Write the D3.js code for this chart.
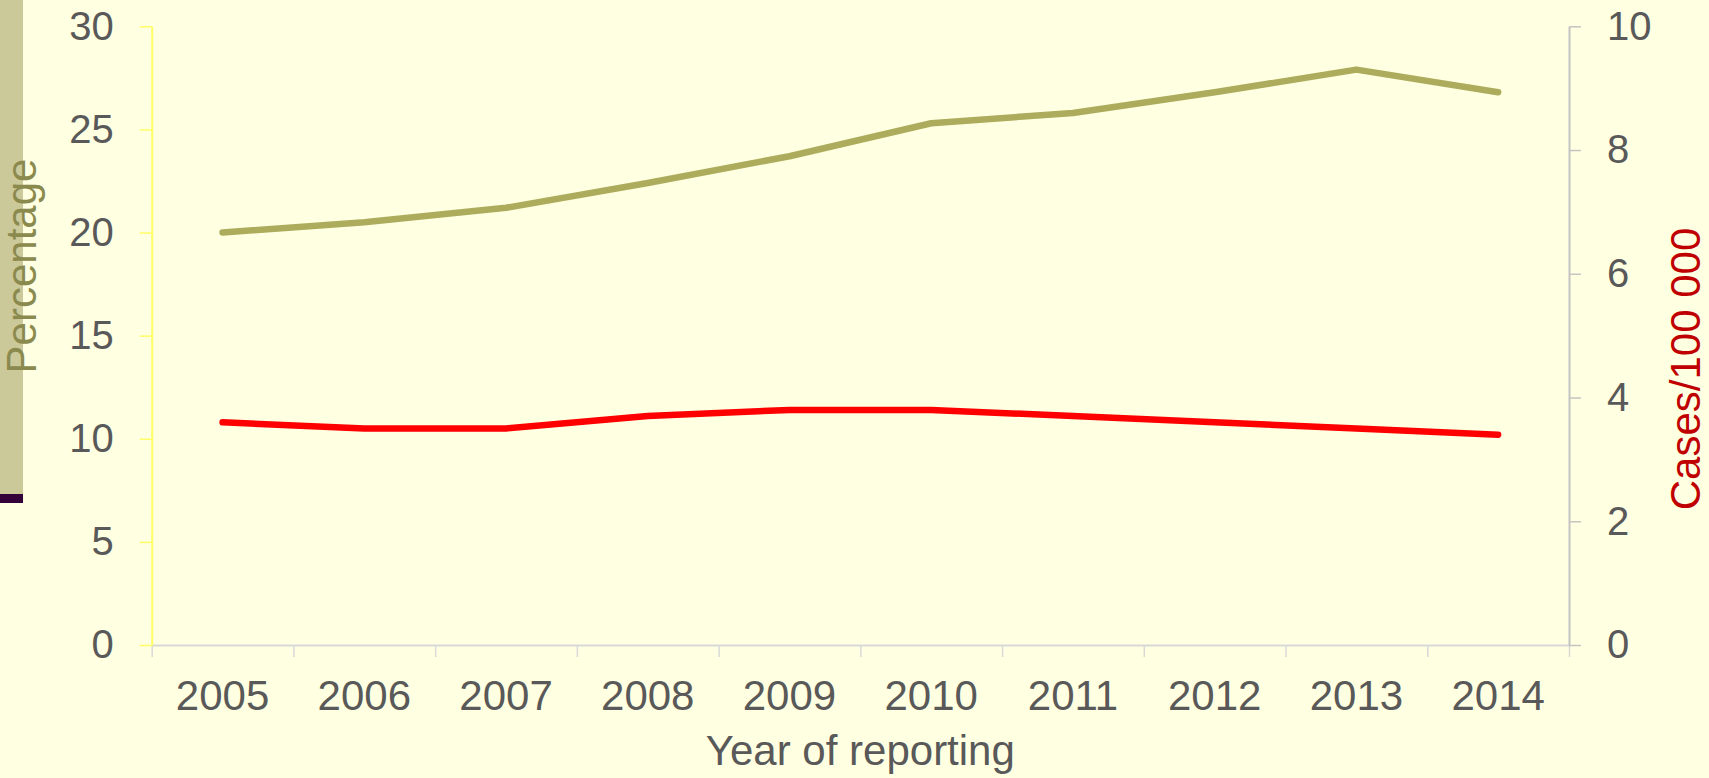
<!DOCTYPE html>
<html>
<head>
<meta charset="utf-8">
<script src="https://cdn.jsdelivr.net/npm/d3@7"></script>
<style>
    html, body { margin: 0; padding: 0; background: #FFFFE1; }
    svg { display: block; font-family: Arial, "Liberation Sans", sans-serif; }
</style>
</head>
<body>
<div id="chart"></div>
<script>
const years = ["2005", "2006", "2007", "2008", "2009", "2010", "2011", "2012", "2013", "2014"];
const percentage = [20.0, 20.5, 21.2, 22.4, 23.7, 25.3, 25.8, 26.8, 27.9, 26.8];
const casesPer100k = [3.6, 3.5, 3.5, 3.7, 3.8, 3.8, 3.7, 3.6, 3.5, 3.4];
const leftTicks = [0, 5, 10, 15, 20, 25, 30];
const rightTicks = [0, 2, 4, 6, 8, 10];

const width = 1709;
const height = 778;
const plotLeft = 151.7;
const plotRight = 1569;
const plotTop = 26.3;
const plotBottom = 645;

const svg = d3.select("#chart")
    .append("svg")
    .attr("width", width)
    .attr("height", height);

svg.append("rect")
    .attr("width", width)
    .attr("height", height)
    .attr("fill", "#FFFFE1");

// decoration strip on the left edge
svg.append("rect")
    .attr("x", 0).attr("y", 0)
    .attr("width", 23).attr("height", 494)
    .attr("fill", "#CBC89A");
svg.append("rect")
    .attr("x", 0).attr("y", 494)
    .attr("width", 23).attr("height", 9)
    .attr("fill", "#33003A");

const x = d3.scaleBand()
    .domain(years)
    .range([plotLeft, plotRight]);

const xEdges = d3.scaleLinear()
    .domain([0, years.length])
    .range([plotLeft, plotRight]);

const yLeft = d3.scaleLinear()
    .domain([0, 30])
    .range([plotBottom, plotTop]);

const yRight = d3.scaleLinear()
    .domain([0, 10])
    .range([plotBottom, plotTop]);

// x axis: boundary ticks
const xTickAxis = svg.append("g")
    .attr("transform", `translate(0,${plotBottom})`)
    .call(d3.axisBottom(xEdges)
        .tickValues(d3.range(years.length + 1))
        .tickSize(12)
        .tickSizeOuter(0)
        .tickFormat(""));
xTickAxis.select(".domain").attr("stroke", "#D9D9D9").attr("stroke-width", 2);
xTickAxis.selectAll(".tick line").attr("stroke", "#D9D9D9").attr("stroke-width", 1.5);

// x axis: year labels in the middle of each band
const xLabelAxis = svg.append("g")
    .attr("transform", `translate(0,${plotBottom})`)
    .call(d3.axisBottom(x).tickSize(0).tickPadding(35));
xLabelAxis.select(".domain").remove();
xLabelAxis.selectAll("text")
    .attr("fill", "#595959")
    .style("font-size", "42px")
    .style("font-family", "Arial, 'Liberation Sans', sans-serif");

// left axis
const leftAxis = svg.append("g")
    .attr("transform", `translate(${plotLeft},0)`)
    .call(d3.axisLeft(yLeft)
        .tickValues(leftTicks)
        .tickSize(12)
        .tickSizeOuter(0)
        .tickPadding(26));
leftAxis.select(".domain").attr("stroke", "#FFFF66").attr("stroke-width", 2);
leftAxis.selectAll(".tick line").attr("stroke", "#FFFF66").attr("stroke-width", 1.5);
leftAxis.selectAll("text")
    .attr("fill", "#595959")
    .style("font-size", "40px")
    .style("font-family", "Arial, 'Liberation Sans', sans-serif");

// right axis
const rightAxis = svg.append("g")
    .attr("transform", `translate(${plotRight},0)`)
    .call(d3.axisRight(yRight)
        .tickValues(rightTicks)
        .tickSize(12)
        .tickSizeOuter(0)
        .tickPadding(26));
rightAxis.select(".domain").attr("stroke", "#C4C4C4").attr("stroke-width", 2);
rightAxis.selectAll(".tick line").attr("stroke", "#C4C4C4").attr("stroke-width", 1.5);
rightAxis.selectAll("text")
    .attr("fill", "#595959")
    .style("font-size", "40px")
    .style("font-family", "Arial, 'Liberation Sans', sans-serif");

// series
const lineLeft = d3.line()
    .x((d, i) => x(years[i]) + x.bandwidth() / 2)
    .y(d => yLeft(d));

const lineRight = d3.line()
    .x((d, i) => x(years[i]) + x.bandwidth() / 2)
    .y(d => yRight(d));

svg.append("path")
    .datum(percentage)
    .attr("d", lineLeft)
    .attr("fill", "none")
    .attr("stroke", "#ADAC5C")
    .attr("stroke-width", 6.5)
    .attr("stroke-linecap", "round")
    .attr("stroke-linejoin", "round");

svg.append("path")
    .datum(casesPer100k)
    .attr("d", lineRight)
    .attr("fill", "none")
    .attr("stroke", "#FF0000")
    .attr("stroke-width", 6.5)
    .attr("stroke-linecap", "round")
    .attr("stroke-linejoin", "round");

// axis titles
svg.append("text")
    .attr("x", (plotLeft + plotRight) / 2)
    .attr("y", 765)
    .attr("text-anchor", "middle")
    .attr("fill", "#595959")
    .style("font-size", "42px")
    .text("Year of reporting");

svg.append("text")
    .attr("transform", "translate(36,266) rotate(-90)")
    .attr("text-anchor", "middle")
    .attr("fill", "#8B8A4E")
    .style("font-size", "42px")
    .text("Percentage");

svg.append("text")
    .attr("transform", "translate(1700,369) rotate(-90)")
    .attr("text-anchor", "middle")
    .attr("fill", "#C00000")
    .style("font-size", "42px")
    .text("Cases/100 000");
</script>
</body>
</html>
